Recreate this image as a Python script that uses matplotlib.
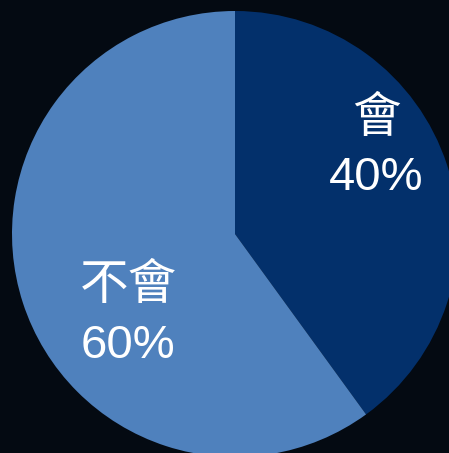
import matplotlib.pyplot as plt

labels = ['會', '不會']
values = [40, 60]
colors = ['#03306b', '#4f81bd']
bg = '#040a12'

fig = plt.figure(figsize=(4.49, 4.53), dpi=100, facecolor=bg)
ax = fig.add_axes([0, 0, 1, 1])
ax.set_facecolor(bg)

# pie: clockwise from 12 o'clock, 會 first
ax.pie(values, colors=colors, startangle=90, counterclock=False,
       radius=1, center=(0, 0), wedgeprops=dict(linewidth=0))

# pixel layout: centre at (235, 234), radius 223 px
r = 223.0
ax.set_xlim(-235 / r, (449 - 235) / r)
ax.set_ylim(-(453 - 234) / r, 234 / r)
ax.set_aspect('auto')
ax.axis('off')

# label positions (pixels in the picture)
pos = [(376, 118, 178), (128, 285, 346)]
for lab, v, (x, yl, yp) in zip(labels, values, pos):
    ax.text((x - 235) / r, (234 - yl) / r, lab, color='white', fontsize=35,
            family=['Noto Sans CJK TC', 'DejaVu Sans'], weight='light',
            ha='center', va='center')
    ax.text((x - 235) / r, (234 - yp) / r, f'{v}%', color='white', fontsize=34,
            family='Liberation Sans', ha='center', va='center')

fig.savefig('out.png', dpi=100, facecolor=bg)
